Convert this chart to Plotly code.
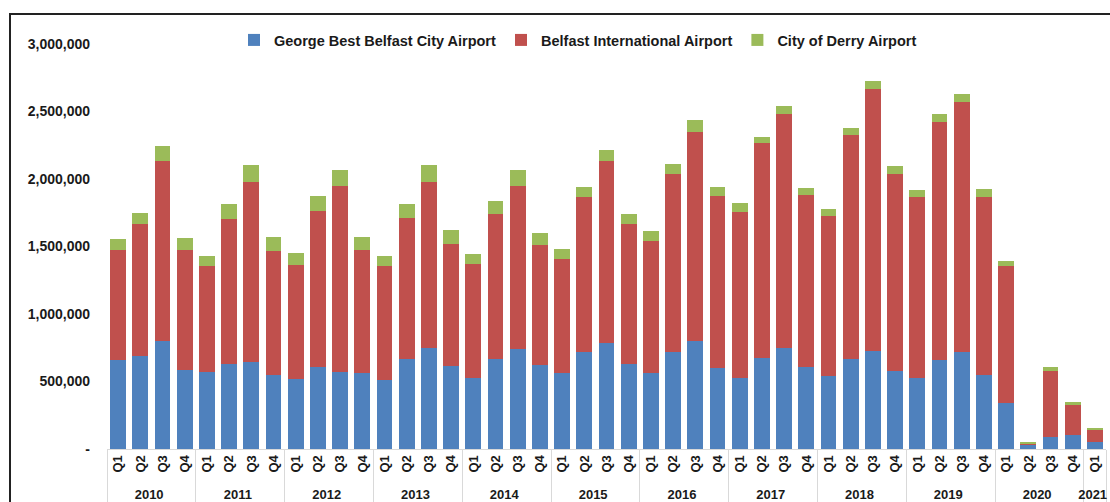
import plotly.graph_objects as go

year_labels = [str(y) for y in range(2010, 2021) for _ in range(4)] + ["2021"]
quarter_labels = ["Q1", "Q2", "Q3", "Q4"] * 11 + ["Q1"]

george_best = [657, 687, 803, 588, 570, 633, 642, 546, 518, 605, 570, 561,
               509, 667, 751, 615, 529, 667, 744, 625, 561, 716, 788, 633,
               561, 716, 798, 598, 529, 677, 751, 605, 538, 667, 724, 581,
               529, 659, 716, 546, 344, 30, 92, 104, 50]
belfast_intl = [820, 977, 1333, 889, 783, 1069, 1335, 918, 843, 1158, 1376, 913,
                844, 1042, 1227, 906, 839, 1077, 1202, 884, 844, 1151, 1348, 1031,
                983, 1324, 1548, 1276, 1224, 1590, 1730, 1279, 1188, 1662, 1943, 1456,
                1338, 1761, 1854, 1321, 1009, 14, 486, 222, 94]
derry = [76, 84, 108, 86, 77, 111, 129, 109, 91, 109, 124, 99,
         77, 103, 129, 99, 74, 91, 124, 89, 74, 74, 82, 74,
         74, 74, 89, 67, 67, 42, 57, 49, 49, 49, 59, 59,
         49, 59, 57, 59, 40, 9, 32, 20, 15]

series_names = ["George Best Belfast City Airport", "Belfast International Airport", "City of Derry Airport"]
colors = ["#4F81BD", "#C0504D", "#9BBB59"]

ytick_vals = [0, 500000, 1000000, 1500000, 2000000, 2500000, 3000000]
ytick_text = ["-", "500,000", "1,000,000", "1,500,000", "2,000,000", "2,500,000", "3,000,000"]

x = [year_labels, quarter_labels]
fig = go.Figure()
for name, vals, col in zip(series_names, [george_best, belfast_intl, derry], colors):
    fig.add_trace(go.Bar(x=x, y=[v * 1000 for v in vals], name=name,
                         marker=dict(color=col, line=dict(width=0))))

W, H = 1110, 502
ml, mr, mt, mb = 107, 4, 44, 53
pw, ph = W - ml - mr, H - mt - mb

def px_x(p):
    return (p - ml) / pw

def px_y(p):
    return (H - mb - p) / ph

fig.update_layout(
    width=W, height=H,
    barmode="stack", bargap=0.28,
    margin=dict(l=ml, r=mr, t=mt, b=mb, autoexpand=False),
    paper_bgcolor="white", plot_bgcolor="white",
    font=dict(family="Arial, Liberation Sans, sans-serif", color="#000000"),
    legend=dict(orientation="h", x=px_x(578), xanchor="center", y=px_y(40), yanchor="middle",
                font=dict(size=14.5, weight="bold", color="#1a1a1a"), bgcolor="rgba(0,0,0,0)",
                traceorder="normal"),
    shapes=[dict(type="rect", xref="paper", yref="paper",
                 x0=px_x(10), x1=px_x(1130), y0=px_y(530), y1=px_y(14),
                 line=dict(color="#222222", width=2), fillcolor="rgba(0,0,0,0)", layer="above")],
)
fig.update_yaxes(range=[0, 3000000], tickvals=ytick_vals, ticktext=ytick_text,
                 showgrid=False, zeroline=False, showline=False,
                 tickfont=dict(size=14, weight="bold", color="#1a1a1a"), ticklabelstandoff=16)
fig.update_xaxes(type="multicategory", tickangle=-90, showgrid=False,
                 showline=True, linecolor="#D9D9D9", linewidth=1,
                 showdividers=True, dividercolor="#D9D9D9", dividerwidth=1,
                 tickfont=dict(size=13, weight="bold", color="#1a1a1a"))

fig.write_html("out.html", config={"displayModeBar": False},
               post_script="document.body.style.margin='0';document.body.style.overflow='hidden';")
